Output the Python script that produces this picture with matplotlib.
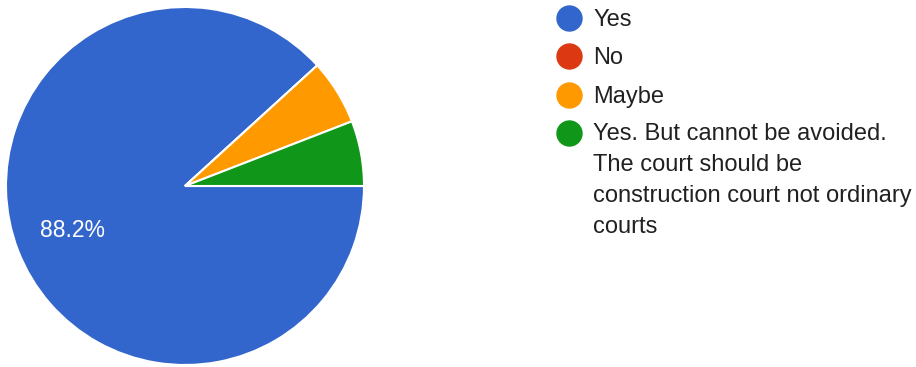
import matplotlib.pyplot as plt

plt.rcParams['font.family'] = ['Liberation Sans', 'DejaVu Sans']

labels = ['Yes', 'No', 'Maybe',
          'Yes. But cannot be avoided.\nThe court should be\nconstruction court not ordinary\ncourts']
counts = [15, 0, 1, 1]
colors = ['#3366CC', '#DC3912', '#FF9900', '#109618']

W, H = 916, 367
fig = plt.figure(figsize=(W / 100, H / 100), dpi=100)

# pie: centre at (185, 186) px, radius 179 px
cx, cy, r = 185, 186, 179
ax = fig.add_axes([(cx - r) / W, (H - cy - r) / H, 2 * r / W, 2 * r / H])


def pct(p):
    return f'{p:.1f}%' if p > 10 else ''


wedges, texts, autotexts = ax.pie(
    counts, colors=colors, startangle=0, counterclock=False,
    autopct=pct, textprops=dict(color='white', fontsize=16.5),
    wedgeprops=dict(edgecolor='white', linewidth=1.5))
ax.set_xlim(-1, 1)
ax.set_ylim(-1, 1)
ax.set_aspect('equal')
ax.axis('off')
autotexts[0].set_position((-0.63, -0.25))

# legend on the right
mx, tx = 569 / W, 593 / W
ys = [18, 56, 95, 133]
for lab, col, y in zip(labels, colors, ys):
    fig.lines.append(plt.Line2D([mx], [1 - y / H], marker='o', markersize=18,
                                color=col, transform=fig.transFigure))
    if '\n' in lab:
        fig.text(tx, 1 - (y - 10.5) / H, lab, fontsize=17, color='#212121',
                 va='top', ha='left', linespacing=1.53)
    else:
        fig.text(tx, 1 - (y + 1.5) / H, lab, fontsize=17, color='#212121',
                 va='center', ha='left')

fig.savefig('out.png', dpi=100)
